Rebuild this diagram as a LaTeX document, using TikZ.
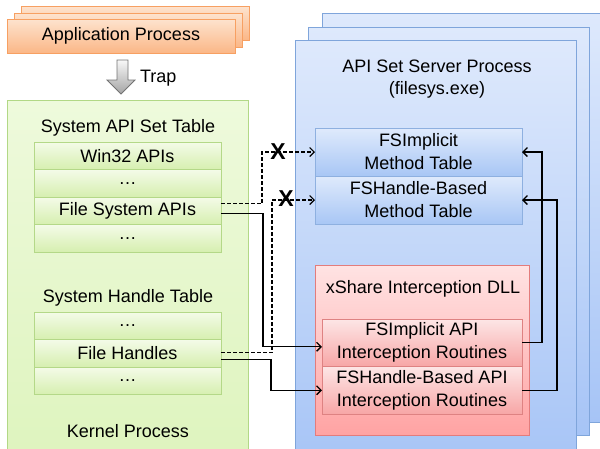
\documentclass[tikz,border=0pt]{standalone}
\usepackage{fontspec}
\setmainfont{Liberation Sans}
\usetikzlibrary{arrows.meta,calc}
\definecolor{orgT}{HTML}{FDE3CE}
\definecolor{orgBot}{HTML}{FBB787}
\definecolor{orgB}{HTML}{F7A062}
\definecolor{grnT}{HTML}{EEFADC}
\definecolor{grnBot}{HTML}{DEF4BE}
\definecolor{grnB}{HTML}{B2D886}
\definecolor{rowT}{HTML}{F4FBE8}
\definecolor{rowBot}{HTML}{D6EFB0}
\definecolor{rowB}{HTML}{B4D888}
\definecolor{bluT}{HTML}{DEE9FC}
\definecolor{bluBot}{HTML}{A6C4F6}
\definecolor{bluB}{HTML}{7FA5DB}
\definecolor{mtT}{HTML}{DFEAFC}
\definecolor{mtBot}{HTML}{A8C6F5}
\definecolor{mtB}{HTML}{8EB0E0}
\definecolor{redT}{HTML}{FFE3E3}
\definecolor{redBot}{HTML}{FFA3A3}
\definecolor{redB}{HTML}{E37C7C}
\definecolor{irT}{HTML}{FDE6E6}
\definecolor{irBot}{HTML}{F7A6A6}
\definecolor{irB}{HTML}{DE8282}
\definecolor{trapT}{HTML}{F8F8F8}
\definecolor{trapBot}{HTML}{A4A4A4}
\begin{document}
\begin{tikzpicture}[x=1pt,y=-1pt,
  font=\fontsize{18}{23}\selectfont,
  every node/.style={inner sep=0pt, outer sep=0pt},
  orangebox/.style={draw=orgB, line width=0.8pt, top color=orgT, bottom color=orgBot,
    minimum width=228pt, minimum height=34pt, anchor=north west},
  bluebox/.style={draw=bluB, line width=0.8pt, top color=bluT, bottom color=bluBot,
    minimum width=281pt, anchor=north west},
  rowbox/.style={draw=rowB, line width=0.8pt, top color=rowT, bottom color=rowBot,
    minimum width=187pt, minimum height=27.5pt, anchor=north west},
  methodbox/.style={draw=mtB, line width=0.8pt, top color=mtT, bottom color=mtBot,
    minimum width=207pt, minimum height=48pt, anchor=north west, align=center},
  intbox/.style={draw=irB, line width=0.8pt, top color=irT, bottom color=irBot,
    minimum width=200pt, minimum height=47.5pt, anchor=north west, align=center},
  conn/.style={line width=1.3pt, -{Straight Barb[length=4.5pt,width=9pt,line width=1.3pt]}},
  dconn/.style={line width=1.1pt, dash pattern=on 3.5pt off 2.5pt,
    -{Straight Barb[length=4.5pt,width=9pt,line width=1.1pt]}},
  xmark/.style={font=\fontsize{23}{23}\selectfont\bfseries}
]
\useasboundingbox (0,0) rectangle (600,448);

% application process stack
\node[orangebox] (appB) at (21,6) {};
\node[orangebox] (appM) at (14,13) {};
\node[orangebox] (app) at (7,19) {Application Process};

% trap arrow
\path[draw=gray!90!black, line width=0.8pt, top color=trapT, bottom color=trapBot]
  (117,60) -- (128,60) -- (128,80) -- (135,80) -- (121,94) -- (107,80) -- (117,80) -- cycle;
\node[anchor=west] (trap) at (140,78) {Trap};

% kernel process
\node[draw=grnB, line width=0.8pt, top color=grnT, bottom color=grnBot,
  minimum width=241pt, minimum height=360pt, anchor=north west] (kernel) at (7,100) {};
\node (apitab) at (128,128) {System API Set Table};
\node[rowbox] (win32) at (34,142) {Win32 APIs};
\node[rowbox] (dotsA) at (34,169.5) {…};
\node[rowbox] (fsapi) at (34,197) {File System APIs};
\node[rowbox] (dotsB) at (34,224.5) {…};
\node (handtab) at (128,298) {System Handle Table};
\node[rowbox] (dotsC) at (34,312) {…};
\node[rowbox] (fh) at (34,339.5) {File Handles};
\node[rowbox] (dotsD) at (34,367) {…};
\node (kproc) at (128,431) {Kernel Process};

% API set server stack
\node[bluebox, minimum height=409pt] (srvB) at (322,13) {};
\node[bluebox, minimum height=408pt] (srvM) at (308,27) {};
\node[bluebox, minimum height=430pt] (srv) at (295,40) {};
\node[align=center] (srvtxt) at (437,79) {API Set Server Process\\[-1pt](filesys.exe)};

\node[methodbox] (mt1) at (315,128) {FSImplicit\\Method Table};
\node[methodbox] (mt2) at (315,176) {FSHandle-Based\\Method Table};

% xShare DLL
\node[draw=redB, line width=0.8pt, top color=redT, bottom color=redBot,
  minimum width=214pt, minimum height=170pt, anchor=north west] (dll) at (315,265) {};
\node (dlltxt) at (423,289) {xShare Interception DLL};
\node[intbox] (ir1) at (322,319) {FSImplicit API\\Interception Routines};
\node[intbox] (ir2) at (322,366.5) {FSHandle-Based API\\Interception Routines};

% dashed (blocked) connectors
\draw[dconn] ([yshift=7pt]fsapi.east) -- ++(41,0) |- (mt1.west);
\draw[dconn] ([yshift=0.5pt]fh.east) -- ++(51,0) |- (mt2.west);
\node[xmark] (x1) at (278,152) {X};
\node[xmark] (x2) at (286,199) {X};

% solid connectors
\draw[conn] ([yshift=-3pt]fsapi.east) -- ++(42,0) |- ([yshift=-4pt]ir1.west);
\draw[conn] ([yshift=-6pt]fh.east) -- ++(50,0) |- (ir2.west);
\draw[conn] (ir1.east) -- ++(20,0) |- (mt1.east);
\draw[conn] (ir2.east) -- ++(35,0) |- (mt2.east);
\end{tikzpicture}
\end{document}
